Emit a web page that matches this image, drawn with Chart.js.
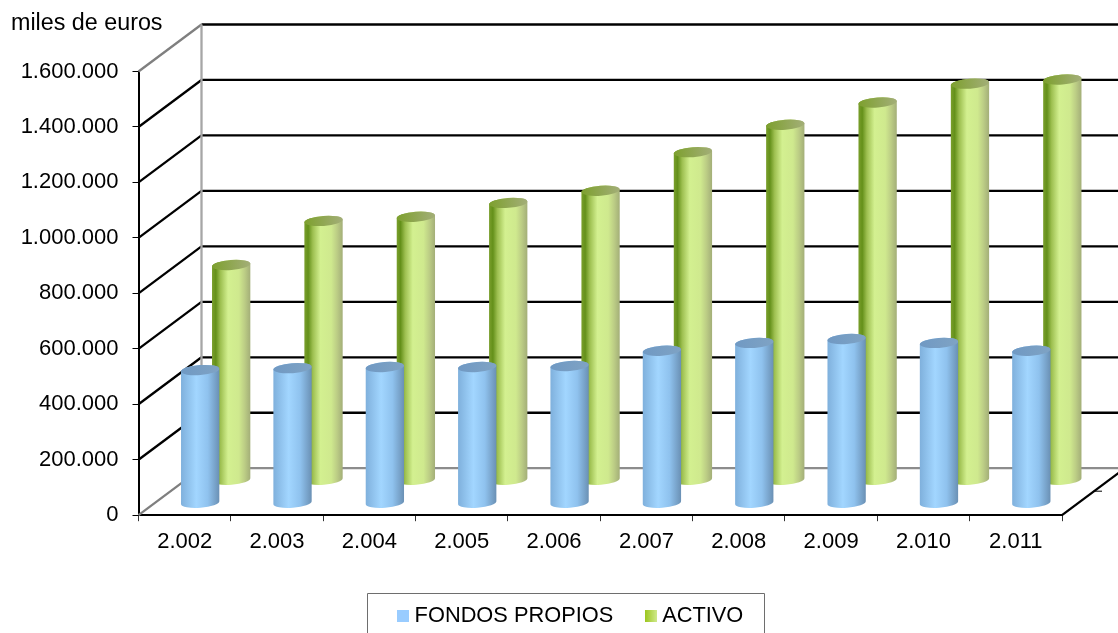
<!DOCTYPE html>
<html>
<head>
<meta charset="utf-8">
<title>Fondos propios y activo</title>
<script src="https://cdn.jsdelivr.net/npm/chart.js@4/dist/chart.umd.min.js"></script>
<style>
  html, body { margin: 0; padding: 0; background: #fff; overflow: hidden; }
  #wrap { position: relative; width: 1118px; height: 633px; }
</style>
</head>
<body>
<div id="wrap"><canvas id="chart" width="1118" height="633"></canvas></div>
<script>
const years = ["2.002", "2.003", "2.004", "2.005", "2.006", "2.007", "2.008", "2.009", "2.010", "2.011"];
const fondosPropios = [480000, 487000, 491000, 491000, 495000, 550000, 578000, 592000, 578000, 550000];
const activo = [776000, 935000, 950000, 1000000, 1044000, 1183000, 1282000, 1362000, 1430000, 1445000];
const unitLabel = "miles de euros";

// fake 3d: how far the back wall sits from the front plane
const depth = { x: 63, y: -47 };
// where each series stands between front plane and wall
const rows = [
  { x: 15.5, y: -12, rx: 19.2, ry: 5, stops: [[0, "#7fb0dc"], [0.4, "#a2d6ff"], [0.7, "#8fc2ee"], [1, "#6a90b4"]], top: ["#7099c3", "#7fa3c4"] },
  { x: 46.5, y: -35, rx: 19.2, ry: 5, stops: [[0, "#7a9f2c"], [0.1, "#64901a"], [0.22, "#9dbf50"], [0.42, "#d3f090"], [0.7, "#cfe98e"], [0.85, "#bccd85"], [1, "#a3ae78"]], top: ["#7da02e", "#a3ae78"] }
];

function drawCylinder(ctx, cx, topY, baseY, row) {
  const tilt = -0.075;
  const g = ctx.createLinearGradient(cx - row.rx, 0, cx + row.rx, 0);
  row.stops.forEach(s => g.addColorStop(s[0], s[1]));
  ctx.beginPath();
  ctx.ellipse(cx, baseY, row.rx, row.ry, tilt, 0, Math.PI);
  ctx.ellipse(cx, topY, row.rx, row.ry, tilt, Math.PI, 2 * Math.PI);
  ctx.closePath();
  ctx.fillStyle = g;
  ctx.fill();
  const t = ctx.createLinearGradient(cx - row.rx, 0, cx + row.rx, 0);
  t.addColorStop(0, row.top[0]);
  t.addColorStop(1, row.top[1]);
  ctx.beginPath();
  ctx.ellipse(cx, topY, row.rx, row.ry, tilt, 0, 2 * Math.PI);
  ctx.fillStyle = t;
  ctx.fill();
}

// legend square as a small canvas, so its text can sit closer than boxWidth allows
function swatch(from, to) {
  const c = document.createElement("canvas");
  c.width = 12;
  c.height = 12;
  const x = c.getContext("2d");
  const g = x.createLinearGradient(0, 0, 12, 0);
  g.addColorStop(0, from);
  g.addColorStop(1, to);
  x.fillStyle = g;
  x.fillRect(0, 0, 12, 12);
  return c;
}

const scene3d = {
  id: "scene3d",
  afterLayout(chart) {
    // legend sits off centre in the original
    chart.legend.left += 42;
    chart.legend.right += 42;
    chart.legend.top += 4;
  },
  beforeDatasetsDraw(chart) {
    const ctx = chart.ctx;
    const area = chart.chartArea;
    const yScale = chart.scales.y;
    const wallX = area.left + depth.x;
    ctx.save();
    ctx.lineWidth = 2.3;
    // floor edge on the right, with its one small tick
    ctx.strokeStyle = "#000";
    ctx.beginPath();
    ctx.moveTo(area.right, area.bottom);
    ctx.lineTo(area.right + depth.x, area.bottom + depth.y);
    ctx.stroke();
    ctx.lineWidth = 1;
    ctx.beginPath();
    ctx.moveTo(area.right + 33, area.bottom - 24);
    ctx.lineTo(area.right + 40, area.bottom - 24);
    ctx.stroke();
    ctx.lineWidth = 2.3;
    // wall lines, one for each tick
    yScale.ticks.forEach((tick, i) => {
      const y = yScale.getPixelForValue(tick.value);
      const last = i === yScale.ticks.length - 1;
      ctx.strokeStyle = i === 0 ? "#8c8c8c" : "#000";
      ctx.beginPath();
      ctx.moveTo(wallX, y + depth.y);
      ctx.lineTo(area.right + depth.x, y + depth.y);
      ctx.stroke();
      ctx.strokeStyle = i === 0 || last ? "#7f7f7f" : "#000";
      ctx.beginPath();
      ctx.moveTo(area.left, y);
      ctx.lineTo(wallX, y + depth.y);
      ctx.stroke();
    });
    ctx.strokeStyle = "#a6a6a6";
    ctx.beginPath();
    ctx.moveTo(wallX, area.top + depth.y);
    ctx.lineTo(wallX, area.bottom + depth.y);
    ctx.stroke();
    ctx.restore();

    // green row stands behind the blue one
    [1, 0].forEach(d => {
      chart.getDatasetMeta(d).data.forEach(bar => {
        const p = bar.getProps(["x", "y", "base"], true);
        drawCylinder(ctx, p.x + rows[d].x, p.y + rows[d].y, p.base + rows[d].y, rows[d]);
      });
    });
  },
  // the cylinders above replace the flat bars
  beforeDatasetDraw() {
    return false;
  },
  afterDraw(chart) {
    const ctx = chart.ctx;
    ctx.save();
    ctx.fillStyle = "#000";
    ctx.font = '23.3px "Liberation Sans"';
    ctx.textBaseline = "middle";
    ctx.fillText(unitLabel, 11, 24);
    // legend frame runs off the bottom of the picture
    ctx.lineWidth = 1;
    ctx.strokeStyle = "#6e6e6e";
    ctx.beginPath();
    ctx.moveTo(367.5, 640);
    ctx.lineTo(367.5, 593.5);
    ctx.lineTo(764.5, 593.5);
    ctx.lineTo(764.5, 640);
    ctx.stroke();
    ctx.restore();
  }
};

new Chart(document.getElementById("chart"), {
  type: "bar",
  data: {
    labels: years,
    datasets: [
      { label: "FONDOS PROPIOS", data: fondosPropios, backgroundColor: "#99ccff", grouped: false },
      { label: "ACTIVO", data: activo, backgroundColor: "#9bc63c", grouped: false }
    ]
  },
  options: {
    responsive: false,
    animation: false,
    barPercentage: 0.65,
    categoryPercentage: 0.64,
    layout: { padding: { left: 0, right: 56, top: 71.5, bottom: 0 } },
    scales: {
      x: {
        afterFit(scale) { scale.height = 49; },
        grid: { offset: true, drawOnChartArea: false, tickColor: "#333", tickLength: 6, tickWidth: 1 },
        border: { color: "#000", width: 2 },
        ticks: { color: "#000", font: { family: "Liberation Sans", size: 22 }, padding: 8, maxRotation: 0, autoSkip: false }
      },
      y: {
        min: 0,
        max: 1600000,
        afterFit(scale) { scale.width = 138.5; },
        grid: { drawOnChartArea: false, tickColor: "#000", tickLength: 6, tickWidth: 1 },
        border: { color: "#000", width: 2 },
        ticks: {
          stepSize: 200000,
          color: "#000",
          padding: 14,
          font: { family: "Liberation Sans", size: 22 },
          callback: v => String(v).replace(/\B(?=(\d{3})+$)/g, ".")
        }
      }
    },
    plugins: {
      tooltip: { enabled: false },
      legend: {
        position: "bottom",
        labels: {
          color: "#000",
          font: { family: "Liberation Sans", size: 21.8 },
          usePointStyle: true,
          pointStyleWidth: 1,
          boxHeight: 12,
          padding: 37,
          generateLabels(chart) {
            return [
              { text: chart.data.datasets[0].label, fillStyle: "#99ccff", lineWidth: 0, pointStyle: swatch("#99ccff", "#99ccff"), datasetIndex: 0 },
              { text: chart.data.datasets[1].label, fillStyle: "#9bc63c", lineWidth: 0, pointStyle: swatch("#9bc61c", "#cfe98a"), datasetIndex: 1 }
            ];
          }
        }
      }
    }
  },
  plugins: [scene3d]
});
</script>
</body>
</html>
